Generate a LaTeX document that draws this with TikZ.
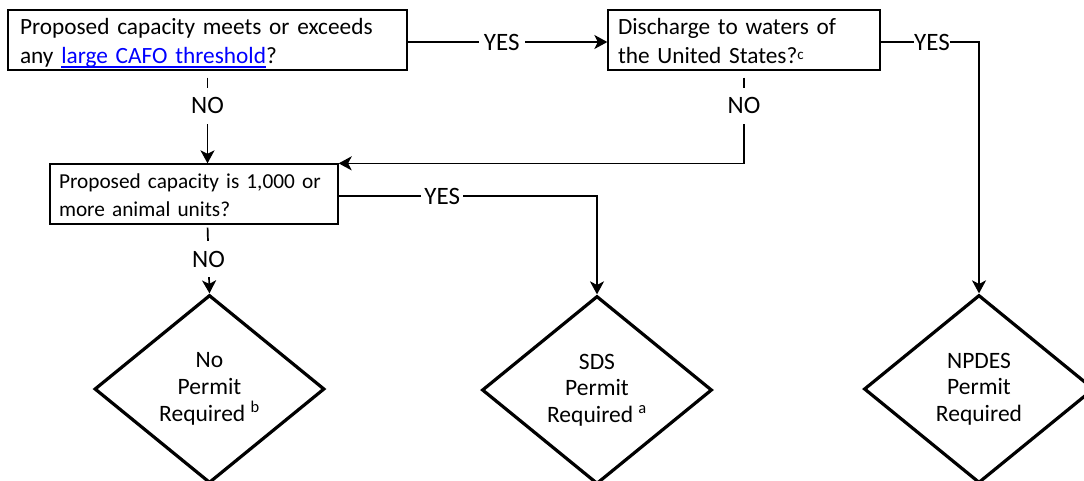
\documentclass[tikz,border=0pt]{standalone}
\usepackage{fontspec}
\setmainfont{Carlito}
\usetikzlibrary{shapes.geometric,arrows.meta}
\definecolor{linkblue}{RGB}{0,0,255}
\newcommand\ulink[1]{\textcolor{linkblue}{\setbox0\hbox{#1}\rlap{\rule[-4.6pt]{\wd0}{1.4pt}}\box0}}
\newcommand\toprule{\rule{0pt}{23pt}}
\newcommand\botrule{\rule[-6pt]{0pt}{6pt}}
\newcommand\supc{\raisebox{4pt}{\fontsize{15}{15}\selectfont c}}
\begin{document}
\begin{tikzpicture}[x=1pt,y=-1pt,
  box/.style={draw, line width=1.3pt, rectangle, align=left, inner xsep=0pt, inner ysep=0pt, minimum height=60pt, font=\fontsize{23.3}{29}\selectfont},
  dia/.style={draw, diamond, line width=3.2pt, inner sep=0pt, minimum width=230pt, minimum height=188pt, align=center, font=\fontsize{23.5}{26.7}\selectfont},
  arr/.style={line width=1.7pt, -{Stealth[length=13pt,width=14pt,inset=3.5pt]}},
  lbl/.style={fill=white, font=\fontsize{25}{28}\selectfont, inner xsep=5pt, inner ysep=9.5pt}
]
\useasboundingbox (0,0) rectangle (1084,480);

\node[box, minimum width=399pt, text width=375pt] (b1) at (207.5,40)
  {\toprule\mbox{Proposed capacity meets or exceeds}\\\mbox{any \ulink{large CAFO threshold}?}\botrule};
\node[box, minimum width=272pt, text width=252pt] (b2) at (744,40)
  {\toprule\mbox{Discharge to waters of}\\\mbox{the United States?\supc}\botrule};
\node[box, minimum width=288pt, text width=270pt, font=\fontsize{21.3}{28}\selectfont] (b3) at (194,194)
  {\rule{0pt}{22pt}\mbox{Proposed capacity is 1,000 or}\\\mbox{more animal units?}\rule[-6pt]{0pt}{6pt}};

\node[dia] (d1) at (209.5,389) {No\\Permit\\Required \textsuperscript{b}};
\node[dia] (d2) at (597,390) {SDS\\Permit\\Required \textsuperscript{a}};
\node[dia] (d3) at (979,389) {NPDES\\Permit\\Required};

\coordinate (c1) at ([yshift=-2pt]b1.east);
\coordinate (c2) at ([yshift=-2pt]b2.east);
\coordinate (c3) at ([yshift=-2pt]b3.east);

% box1 -> box2 YES
\draw[arr] (c1) -- node[lbl, pos=0.353, anchor=west] {YES} (c1 -| b2.west);
% box1 -> box3 NO
\draw[arr, shorten <=7pt] (b1.south) -- node[lbl, pos=0.38] {NO} (b1.south |- b3.north);
% box2 -> box3 NO
\draw[arr, shorten <=7pt] (b2.south) -- node[lbl, pos=0.38] {NO} (b2.south |- b3.north east) -- (b3.north east);
% box2 -> d3 YES
\draw[arr] (c2) -- node[lbl, pos=0.327, anchor=west, inner xsep=0.5pt] {YES\hspace{17pt}} (c2 -| d3.north) -- (d3.north);
% box3 -> d2 YES
\draw[arr] (c3) -- node[lbl, pos=0.317, anchor=west, inner xsep=3pt] {YES\hspace{9pt}} (c3 -| d2.north) -- (d2.north);
% box3 -> d1 NO
\draw[arr, shorten <=3pt] (b3.south -| b1.south) -- node[lbl, pos=0.5] {NO} (d1.north);
\end{tikzpicture}
\end{document}
